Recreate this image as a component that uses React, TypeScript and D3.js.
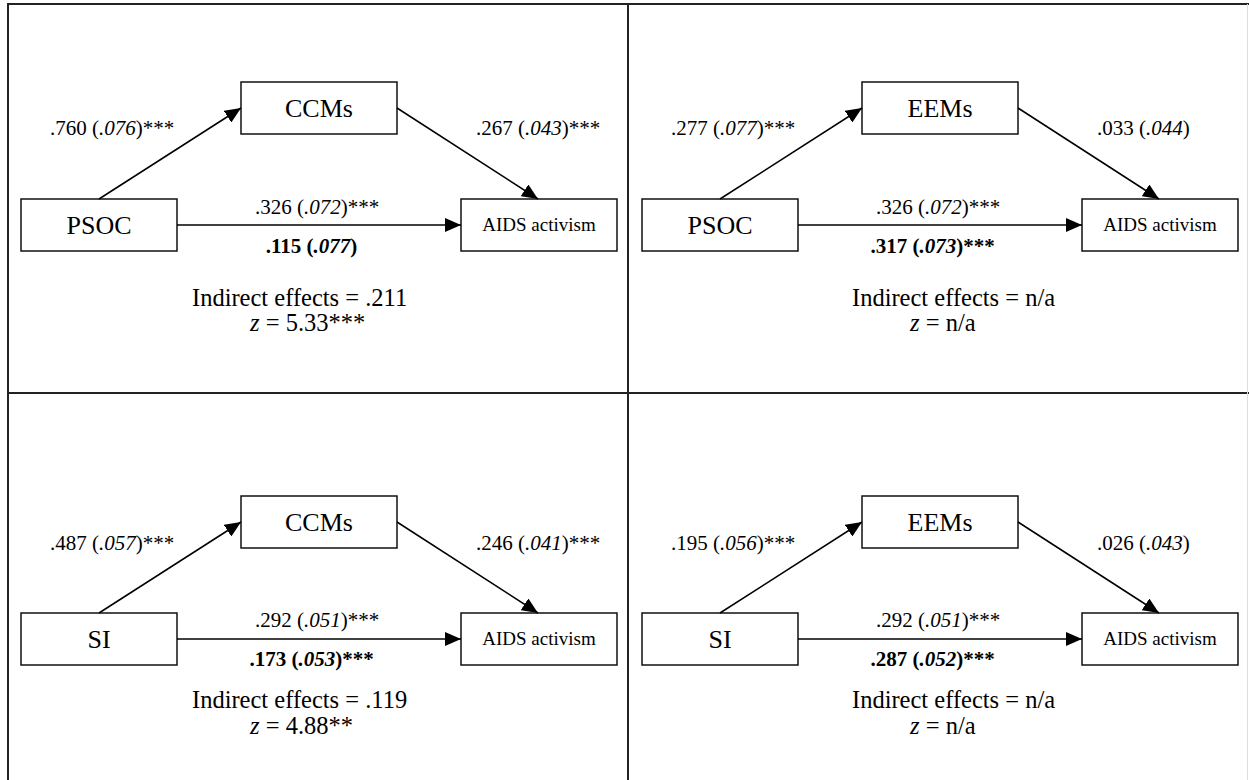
import React from 'react';
import * as d3 from 'd3';

// four mediation models: predictor -> mediator -> AIDS activism
const predictors = ['PSOC', 'PSOC', 'SI', 'SI'];
const mediators = ['CCMs', 'EEMs', 'CCMs', 'EEMs'];
const outcome = 'AIDS activism';

// path a (predictor -> mediator)
const aEst = ['.760', '.277', '.487', '.195'];
const aSE = ['.076', '.077', '.057', '.056'];
const aSig = ['***', '***', '***', '***'];

// path b (mediator -> outcome)
const bEst = ['.267', '.033', '.246', '.026'];
const bSE = ['.043', '.044', '.041', '.043'];
const bSig = ['***', '', '***', ''];

// total effect c
const cEst = ['.326', '.326', '.292', '.292'];
const cSE = ['.072', '.072', '.051', '.051'];
const cSig = ['***', '***', '***', '***'];

// direct effect c' (bold)
const cpEst = ['.115', '.317', '.173', '.287'];
const cpSE = ['.077', '.073', '.053', '.052'];
const cpSig = ['', '***', '***', '***'];

const indirect = ['.211', 'n/a', '.119', 'n/a'];
const zValues = ['5.33***', 'n/a', '4.88**', 'n/a'];

const W = 1249;
const H = 780;
const FONT = "'Liberation Serif', 'DejaVu Serif', serif";

// panel origins (col/row -> left edge / top of the lower boxes)
const colX = d3.scaleLinear().domain([0, 1]).range([0, 621]);
const rowY = d3.scaleLinear().domain([0, 1]).range([199, 613]);

const box = { w: 156, h: 52 };
const predX = 21;
const medX = 241;
const medY = -117;
const outX = 461;

// text layout per row (baselines relative to box top)
const rowText = [
  { top: -64, direct: 15, bold: 54, ind: 107, z: 132 },
  { top: -63, direct: 14, bold: 53, ind: 95, z: 121 },
];
const colText = [
  { ind: 192, z: 250 },
  { ind: 231, z: 289 },
];

function Coef({ est, se, sig, x, y, anchor = 'start', bold = false }: any) {
  return (
    <text x={x} y={y} textAnchor={anchor} fontSize={21} fontWeight={bold ? 'bold' : 'normal'}>
      {est} (<tspan fontStyle="italic">{se}</tspan>){sig}
    </text>
  );
}

function Panel({ i }: { i: number }) {
  const col = i % 2;
  const row = Math.floor(i / 2);
  const rt = rowText[row];
  const ct = colText[col];
  const midY = box.h / 2;
  return (
    <g transform={`translate(${colX(col)},${rowY(row)})`}>
      {/* boxes */}
      <rect x={predX} y={0} width={box.w} height={box.h} fill="#fff" stroke="#111" strokeWidth={1.5} />
      <rect x={medX} y={medY} width={box.w} height={box.h} fill="#fff" stroke="#111" strokeWidth={1.5} />
      <rect x={outX} y={0} width={box.w} height={box.h} fill="#fff" stroke="#111" strokeWidth={1.5} />
      <text x={predX + box.w / 2} y={midY + 9} textAnchor="middle" fontSize={26}>{predictors[i]}</text>
      <text x={medX + box.w / 2} y={medY + midY + 9} textAnchor="middle" fontSize={26}>{mediators[i]}</text>
      <text x={outX + box.w / 2} y={midY + 6} textAnchor="middle" fontSize={19}>{outcome}</text>

      {/* paths */}
      <line x1={predX + box.w / 2} y1={0} x2={medX} y2={medY + midY} stroke="#000" strokeWidth={1.5} markerEnd="url(#arr)" />
      <line x1={medX + box.w} y1={medY + midY} x2={outX + box.w / 2 - 1} y2={0} stroke="#000" strokeWidth={1.5} markerEnd="url(#arr)" />
      <line x1={predX + box.w} y1={midY} x2={outX} y2={midY} stroke="#000" strokeWidth={1.5} markerEnd="url(#arr)" />

      {/* coefficients */}
      <Coef est={aEst[i]} se={aSE[i]} sig={aSig[i]} x={50} y={rt.top} />
      <Coef est={bEst[i]} se={bSE[i]} sig={bSig[i]} x={476} y={rt.top} />
      <Coef est={cEst[i]} se={cSE[i]} sig={cSig[i]} x={255} y={rt.direct} />
      <Coef est={cpEst[i]} se={cpSE[i]} sig={cpSig[i]} x={311.5} y={rt.bold} anchor="middle" bold />

      <text x={ct.ind} y={rt.ind} fontSize={24.5}>Indirect effects = {indirect[i]}</text>
      <text x={ct.z} y={rt.z} fontSize={24.5}>
        <tspan fontStyle="italic">z</tspan> = {zValues[i]}
      </text>
    </g>
  );
}

export default function App() {
  return (
    <div style={{ position: 'absolute', left: 0, top: 0 }}>
      <svg width={W} height={H} style={{ display: 'block', background: '#fff' }} fontFamily={FONT} fill="#000">
        <defs>
          <marker id="arr" viewBox="0 0 16 14" refX={16} refY={7} markerWidth={16} markerHeight={14}
            markerUnits="userSpaceOnUse" orient="auto">
            <path d="M0,0L16,7L0,14Z" fill="#000" />
          </marker>
        </defs>
        {/* frame */}
        <g stroke="#222" strokeWidth={2}>
          <line x1={8} y1={4} x2={W} y2={4} />
          <line x1={8} y1={3} x2={8} y2={H} />
          <line x1={628} y1={4} x2={628} y2={H} />
          <line x1={8} y1={393} x2={W} y2={393} />
        </g>
        <line x1={1247.5} y1={4} x2={1247.5} y2={H} stroke="#ddd" strokeWidth={1} />
        {d3.range(4).map(i => <Panel key={i} i={i} />)}
      </svg>
    </div>
  );
}
